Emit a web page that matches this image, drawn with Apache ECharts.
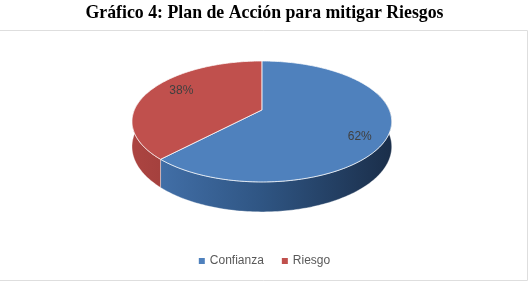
<!DOCTYPE html>
<html><head><meta charset="utf-8">
<script src="https://cdn.jsdelivr.net/npm/echarts/dist/echarts.min.js"></script>
<style>html,body{margin:0;padding:0;background:#fff}#c{width:529px;height:282px}</style>
</head><body><div id="c"></div>
<script>
const categories = ['Confianza', 'Riesgo'];
const values = [62, 38];
const titleText = 'Gráfico 4: Plan de Acción para mitigar Riesgos';

const topColors = ['#4f81bd', '#c0504d'];
const wallStops = [
  [[0, '#4675b0'], [0.5, '#2f5583'], [1, '#1b2f4b']],
  [[0, '#ab4441'], [0.5, '#8c3432'], [1, '#6e2826']]
];
const total = values.reduce((a, b) => a + b, 0);

function geom(api) {
  const W = api.getWidth(), H = api.getHeight();
  return { x0: W * 0.495, y0: H * 0.39, C: W * 0.241, B: H * 0.2067, k: 0.19, D: H * 0.086 };
}
function proj(g, phi, r, h) {
  const u = r * Math.sin(phi), v = -r * Math.cos(phi);
  const s = 1 / (1 - g.k * v);
  return [g.x0 + g.C * u * s, g.y0 + g.B * v * s + g.D * h * s];
}
function makeRender(i) {
  return function (params, api) {
    const g = geom(api);
    const before = values.slice(0, i).reduce((a, b) => a + b, 0);
    const a0 = before / total * 2 * Math.PI;
    const a1 = (before + values[i]) / total * 2 * Math.PI;
    const deg = Math.PI / 180;
    const top = [proj(g, 0, 0, 0)];
    const n = Math.max(2, Math.ceil((a1 - a0) / deg));
    for (let j = 0; j <= n; j++) top.push(proj(g, a0 + (a1 - a0) * j / n, 1, 0));
    const wl = Math.acos(0.3);
    const w0 = Math.max(a0, wl), w1 = Math.min(a1, 2 * Math.PI - wl);
    const children = [];
    if (w1 > w0) {
      const m = Math.max(2, Math.ceil((w1 - w0) / deg));
      const upper = [], lower = [];
      for (let j = 0; j <= m; j++) {
        const p = w0 + (w1 - w0) * j / m;
        upper.push(proj(g, p, 1, 0));
        lower.push(proj(g, p, 1, 1));
      }
      children.push({
        type: 'polygon', z2: 1,
        shape: { points: upper.concat(lower.reverse()) },
        style: {
          fill: { type: 'linear', x: g.x0 - g.C, y: 0, x2: g.x0 + g.C, y2: 0, global: true,
            colorStops: wallStops[i].map(s => ({ offset: s[0], color: s[1] })) },
          stroke: 'rgba(255,255,255,0.45)', lineWidth: 0.8
        }
      });
    }
    children.push({
      type: 'polygon', z2: 2,
      shape: { points: top },
      style: { fill: topColors[i], stroke: 'rgba(255,255,255,0.75)', lineWidth: 1 }
    });
    const mid = (a0 + a1) / 2 + 8 * deg;
    const lp = proj(g, mid, 0.8, 0);
    children.push({
      type: 'text', z2: 3, x: lp[0] + 2, y: lp[1] + 2,
      style: { text: Math.round(values[i] / total * 100) + '%', fill: '#404040',
        font: '12px "Liberation Sans"', align: 'center', verticalAlign: 'middle' }
    });
    return { type: 'group', children };
  };
}

const chart = echarts.init(document.getElementById('c'), null, { renderer: 'canvas' });
chart.setOption({
  animation: false,
  backgroundColor: '#fff',
  title: {
    text: titleText, left: 'center', top: -1,
    textStyle: { fontFamily: 'Liberation Serif', fontWeight: 'bold', fontSize: 17.8, color: '#000' }
  },
  graphic: [{
    type: 'rect', left: -4, top: 28, silent: true,
    shape: { width: 529, height: 250 },
    style: { fill: 'none', stroke: '#dedede', lineWidth: 1 }
  }],
  legend: {
    data: categories, left: 'center', top: 250, icon: 'rect',
    itemWidth: 6, itemHeight: 6, itemGap: 18,
    textStyle: { color: '#595959', fontSize: 12, fontFamily: 'Liberation Sans' }
  },
  series: categories.map((name, i) => ({
    type: 'custom', name, coordinateSystem: 'none', z: 2 + i,
    renderItem: makeRender(i), data: [values[i]],
    itemStyle: { color: topColors[i] }
  }))
});
</script></body></html>
